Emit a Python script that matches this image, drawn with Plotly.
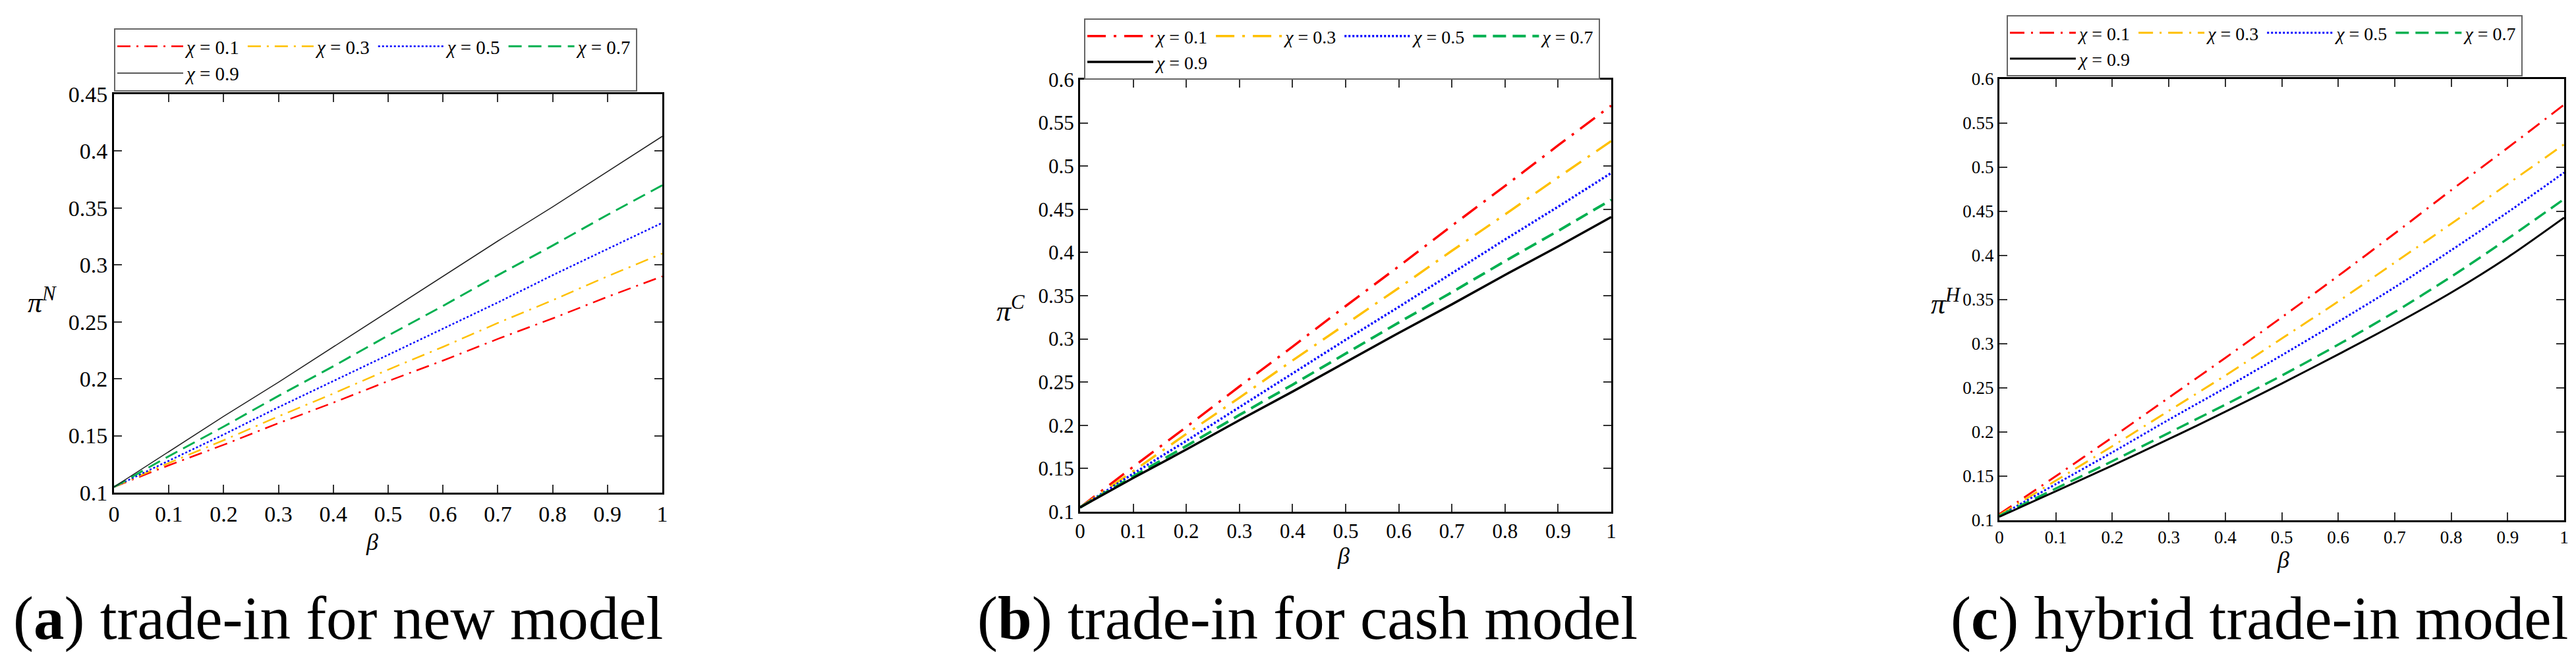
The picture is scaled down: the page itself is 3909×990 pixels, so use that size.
import plotly.graph_objects as go

# ---------------- data ----------------
beta = [0.0, 0.1, 0.2, 0.3, 0.4, 0.5, 0.6, 0.7, 0.8, 0.9, 1.0]
chi_values = ["0.1", "0.3", "0.5", "0.7", "0.9"]

# (a) trade-in for new model : pi^N
piN_chi01 = [0.105, 0.124, 0.142, 0.161, 0.179, 0.198, 0.216, 0.235, 0.253, 0.272, 0.290]
piN_chi03 = [0.105, 0.126, 0.146, 0.167, 0.187, 0.208, 0.228, 0.249, 0.269, 0.290, 0.310]
piN_chi05 = [0.105, 0.128, 0.151, 0.175, 0.198, 0.221, 0.244, 0.267, 0.291, 0.314, 0.337]
piN_chi07 = [0.105, 0.132, 0.158, 0.185, 0.211, 0.238, 0.264, 0.291, 0.317, 0.344, 0.370]
piN_chi09 = [0.105, 0.136, 0.167, 0.197, 0.228, 0.259, 0.290, 0.321, 0.351, 0.382, 0.413]

# (b) trade-in for cash model : pi^C
piC_chi01 = [0.105, 0.152, 0.198, 0.245, 0.291, 0.338, 0.384, 0.431, 0.477, 0.524, 0.570]
piC_chi03 = [0.105, 0.147, 0.190, 0.232, 0.275, 0.317, 0.359, 0.402, 0.444, 0.487, 0.529]
piC_chi05 = [0.105, 0.144, 0.182, 0.221, 0.260, 0.299, 0.337, 0.376, 0.415, 0.453, 0.492]
piC_chi07 = [0.105, 0.141, 0.176, 0.212, 0.247, 0.283, 0.319, 0.354, 0.390, 0.425, 0.461]
piC_chi09 = [0.105, 0.139, 0.172, 0.206, 0.239, 0.273, 0.307, 0.340, 0.374, 0.407, 0.441]

# (c) hybrid trade-in model : pi^H
piH_chi01 = [0.107, 0.150, 0.194, 0.239, 0.284, 0.330, 0.377, 0.425, 0.474, 0.522, 0.571]
piH_chi03 = [0.106, 0.145, 0.184, 0.224, 0.264, 0.306, 0.348, 0.392, 0.436, 0.481, 0.526]
piH_chi05 = [0.105, 0.141, 0.177, 0.214, 0.250, 0.287, 0.325, 0.364, 0.406, 0.449, 0.494]
piH_chi07 = [0.105, 0.136, 0.167, 0.199, 0.231, 0.264, 0.299, 0.336, 0.376, 0.419, 0.464]
piH_chi09 = [0.104, 0.133, 0.162, 0.192, 0.223, 0.255, 0.288, 0.322, 0.358, 0.398, 0.443]

x_tick_vals = [0, 0.1, 0.2, 0.3, 0.4, 0.5, 0.6, 0.7, 0.8, 0.9, 1]
x_tick_text = ["0", "0.1", "0.2", "0.3", "0.4", "0.5", "0.6", "0.7", "0.8", "0.9", "1"]
y_tick_vals_a = [0.1, 0.15, 0.2, 0.25, 0.3, 0.35, 0.4, 0.45]
y_tick_text_a = ["0.1", "0.15", "0.2", "0.25", "0.3", "0.35", "0.4", "0.45"]
y_tick_vals_bc = [0.1, 0.15, 0.2, 0.25, 0.3, 0.35, 0.4, 0.45, 0.5, 0.55, 0.6]
y_tick_text_bc = ["0.1", "0.15", "0.2", "0.25", "0.3", "0.35", "0.4", "0.45", "0.5", "0.55", "0.6"]

captions = ["(<b>a</b>) trade-in for new model",
            "(<b>b</b>) trade-in for cash model",
            "(<b>c</b>) hybrid trade-in model"]
y_labels = ["<i>π</i><sup><i>N</i></sup>", "<i>π</i><sup><i>C</i></sup>", "<i>π</i><sup><i>H</i></sup>"]

# ---------------- styles ----------------
W, H = 3909, 990
FONT = "Liberation Serif"
colors = ["#FF0000", "#FFC000", "#0000FF", "#00B050", "#000000"]
groups = ["g1", "g2", "g3", "g4", "g1"]

panels = [
    dict(series=[piN_chi01, piN_chi03, piN_chi05, piN_chi07, piN_chi09],
         dashes=["20px,9px,3px,9px", "20px,9px,3px,9px", "3px,3px", "20px,10px", "solid"],
         widths=[2.5, 2.5, 2.5, 3, 1.6], black="#222222", shape="linear",
         xdom=[165 / W, 997 / W], ydom=[1 - 740 / H, 1 - 135 / H],
         yrange=[0.1, 0.45], yvals=y_tick_vals_a, ytext=y_tick_text_a, tickfont=34,
         legend="legend", lx=165 / W, ly=1 - 35 / H, lfont=29,
         ylab_x=56 / W, ylab_y=1 - 449 / H, beta_x=556 / W, beta_y=1 - 815 / H,
         cap_x=505 / W),
    dict(series=[piC_chi01, piC_chi03, piC_chi05, piC_chi07, piC_chi09],
         dashes=["28px,12px,4px,12px", "28px,12px,4px,12px", "3px,3px", "20px,10px", "solid"],
         widths=[3.5, 3.5, 3.5, 4, 3.5], black="#000000", shape="linear",
         xdom=[1631 / W, 2437 / W], ydom=[1 - 769 / H, 1 - 113 / H],
         yrange=[0.1, 0.6], yvals=y_tick_vals_bc, ytext=y_tick_text_bc, tickfont=31,
         legend="legend2", lx=1637 / W, ly=1 - 20 / H, lfont=28,
         ylab_x=1525 / W, ylab_y=1 - 461 / H, beta_x=2030 / W, beta_y=1 - 836 / H,
         cap_x=1976 / W),
    dict(series=[piH_chi01, piH_chi03, piH_chi05, piH_chi07, piH_chi09],
         dashes=["22px,10px,3px,10px", "22px,10px,3px,10px", "3px,3px", "20px,10px", "solid"],
         widths=[3, 3, 3, 3.5, 3], black="#000000", shape="spline",
         xdom=[3026 / W, 3883 / W], ydom=[1 - 782 / H, 1 - 112 / H],
         yrange=[0.1, 0.6], yvals=y_tick_vals_bc, ytext=y_tick_text_bc, tickfont=27,
         legend="legend3", lx=3037 / W, ly=1 - 15 / H, lfont=28,
         ylab_x=2945 / W, ylab_y=1 - 451 / H, beta_x=3456 / W, beta_y=1 - 842 / H,
         cap_x=3420 / W),
]

fig = go.Figure()
annotations = []
for p_i, p in enumerate(panels):
    sfx = "" if p_i == 0 else str(p_i + 1)
    for s_i, vals in enumerate(p["series"]):
        col = colors[s_i] if s_i < 4 else p["black"]
        fig.add_trace(go.Scatter(
            x=beta, y=vals, mode="lines",
            name="<i>χ</i> = " + chi_values[s_i],
            line=dict(color=col, width=p["widths"][s_i], dash=p["dashes"][s_i],
                      shape=p["shape"], smoothing=0.8),
            xaxis="x" + sfx, yaxis="y" + sfx,
            legend=p["legend"], legendgroup=groups[s_i] + sfx,
            showlegend=True, hoverinfo="skip"))

    axis_common = dict(showline=True, linecolor="#000000", linewidth=3, mirror="ticks",
                       ticks="inside", ticklen=12, tickwidth=2, tickcolor="#333333",
                       showgrid=False, zeroline=False, automargin=False,
                       tickfont=dict(family=FONT, size=p["tickfont"], color="#000000"))
    fig.update_layout(**{
        "xaxis" + sfx: dict(domain=p["xdom"], range=[0, 1], tickvals=x_tick_vals,
                            ticktext=x_tick_text, anchor="y" + sfx, **axis_common),
        "yaxis" + sfx: dict(domain=p["ydom"], range=p["yrange"], tickvals=p["yvals"],
                            ticktext=p["ytext"], anchor="x" + sfx, **axis_common),
        p["legend"]: dict(x=p["lx"], y=p["ly"], xanchor="left", yanchor="top",
                          orientation="h", traceorder="grouped", tracegroupgap=0,
                          itemwidth=100, bgcolor="#FFFFFF", bordercolor="#666666",
                          borderwidth=2,
                          font=dict(family=FONT, size=p["lfont"], color="#000000")),
    })
    annotations.append(dict(x=p["ylab_x"], y=p["ylab_y"], xref="paper", yref="paper",
                            xanchor="center", yanchor="middle",
                            text=y_labels[p_i], showarrow=False,
                            font=dict(family=FONT, size=44, color="#000000")))
    annotations.append(dict(x=p["beta_x"], y=p["beta_y"], xref="paper", yref="paper",
                            xanchor="center", yanchor="middle",
                            text="<i>β</i>", showarrow=False,
                            font=dict(family=FONT, size=36, color="#000000")))
    annotations.append(dict(x=p["cap_x"], y=1 - 930 / H, xref="paper", yref="paper",
                            xanchor="center", yanchor="middle",
                            text=captions[p_i], showarrow=False,
                            font=dict(family=FONT, size=93, color="#000000")))

fig.update_layout(width=W, height=H,
                  margin=dict(l=0, r=0, t=0, b=0, pad=0, autoexpand=False),
                  paper_bgcolor="#FFFFFF", plot_bgcolor="#FFFFFF",
                  annotations=annotations, hovermode=False)

fig.write_html("out.html")
